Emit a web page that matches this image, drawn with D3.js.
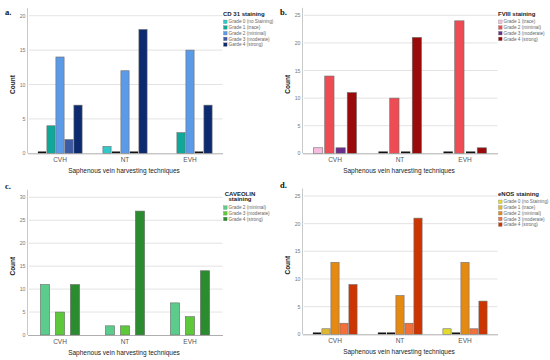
<!DOCTYPE html>
<html lang="en">
<head>
<meta charset="UTF-8">
<title>Staining by harvesting technique</title>
<script src="https://cdn.jsdelivr.net/npm/d3@7"></script>
<style>
  body { margin: 0; background: #fff; }
  svg { display: block; font-family: "Liberation Sans", Arial, sans-serif; }
</style>
</head>
<body>
<script>
// categories shared by all four panels
var categories = ["CVH", "NT", "EVH"];

// a. CD 31
var cd31Grades = ["Grade 0 (no Staining)", "Grade 1 (trace)", "Grade 2 (minimal)", "Grade 3 (moderate)", "Garde 4 (strong)"];
var cd31Values = [[0, 4, 14, 2, 7], [1, 0, 12, 0, 18], [null, 3, 15, 0, 7]];
var cd31Ticks = [0, 5, 10, 15, 20];

// b. FVIII
var fviiiGrades = ["Grade 1 (trace)", "Grade 2 (minimal)", "Grade 3 (moderate)", "Grade 4 (strong)"];
var fviiiValues = [[1, 14, 1, 11], [0, 10, 0, 21], [0, 24, 0, 1]];
var fviiiTicks = [0, 5, 10, 15, 20, 25];

// c. CAVEOLIN
var cavGrades = ["Grade 2 (minimal)", "Grade 3 (moderate)", "Grade 4 (strong)"];
var cavValues = [[11, 5, 11], [2, 2, 27], [7, 4, 14]];
var cavTicks = [0, 5, 10, 15, 20, 25, 30];

// d. eNOS
var enosGrades = ["Grade 0 (no Staining)", "Grade 1 (trace)", "Grade 2 (minimal)", "Grade 3 (moderate)", "Grade 4 (strong)"];
var enosValues = [[0, 1, 13, 2, 9], [0, 0, 7, 2, 21], [1, 0, 13, 1, 6]];
var enosTicks = [0, 5, 10, 15, 20, 25];

var panels = [
  {label: "a.", ox: 0, oy: 0, title: ["CD 31 staining"], grades: cd31Grades, values: cd31Values, ticks: cd31Ticks,
   colors: ["#30c8c8", "#10a898", "#5a9ae6", "#3d5aa6", "#0c2a70"], y0: 153.3, yTop: 15.7, labelY: 15},
  {label: "b.", ox: 275, oy: 0, title: ["FVIII staining"], grades: fviiiGrades, values: fviiiValues, ticks: fviiiTicks,
   colors: ["#f6bde0", "#ee4c55", "#6b2d8c", "#9b0a0a"], y0: 153.3, yTop: 15.3, labelY: 15},
  {label: "c.", ox: 0, oy: 180, title: ["CAVEOLIN", "staining"], grades: cavGrades, values: cavValues, ticks: cavTicks,
   colors: ["#5ccc8c", "#5cc83a", "#2a8c2e"], y0: 155, yTop: 17.3, labelY: 9},
  {label: "d.", ox: 275, oy: 180, title: ["eNOS staining"], grades: enosGrades, values: enosValues, ticks: enosTicks,
   colors: ["#e4dc2a", "#e0b830", "#e48a12", "#f2703a", "#cc3500"], y0: 154.3, yTop: 16, labelY: 8}
];

var width = 550, height = 360;
var svg = d3.select("body").append("svg").attr("width", width).attr("height", height);

var plotLeft = 27.5, plotRight = 222.5;
var groupW = 45;

panels.forEach(function(p) {
  var g = svg.append("g").attr("transform", "translate(" + p.ox + "," + p.oy + ")");
  var maxT = d3.max(p.ticks);

  var x0 = d3.scaleBand().domain(categories).range([plotLeft, plotRight]);
  var x1 = d3.scaleBand().domain(p.grades).range([-groupW / 2, groupW / 2]);
  var y = d3.scaleLinear().domain([0, maxT]).range([p.y0, p.yTop]);
  var color = d3.scaleOrdinal().domain(p.grades).range(p.colors);
  var bw = Math.min(x1.bandwidth() - 0.8, 9.3);

  // panel label
  g.append("text").attr("x", 5).attr("y", p.labelY)
    .attr("font-family", "Liberation Serif, DejaVu Serif, serif").attr("font-weight", "bold")
    .attr("font-size", 8.5).attr("fill", "#111").text(p.label);

  // gridlines
  g.append("g").selectAll("line").data(p.ticks.filter(function(t) { return t > 0; })).enter().append("line")
    .attr("x1", plotLeft + 1.5).attr("x2", plotRight)
    .attr("y1", function(d) { return y(d); }).attr("y2", function(d) { return y(d); })
    .attr("stroke", "#dcdcdc").attr("stroke-width", 0.8);

  // y axis
  var yAxis = d3.axisLeft(y).tickValues(p.ticks).tickSize(0).tickPadding(2);
  var ya = g.append("g").attr("transform", "translate(" + plotLeft + ",0)").call(yAxis);
  ya.select(".domain").remove();
  ya.selectAll("text").attr("font-size", 5.2).attr("fill", "#777").attr("font-family", "Liberation Sans, sans-serif");
  g.append("line").attr("x1", plotLeft).attr("x2", plotLeft).attr("y1", p.yTop - 7.5).attr("y2", p.y0)
    .attr("stroke", "#bbb").attr("stroke-width", 0.8);

  // bars
  categories.forEach(function(cat, ci) {
    var cg = g.append("g").attr("transform", "translate(" + (x0(cat) + x0.bandwidth() / 2) + ",0)");
    var rows = p.grades.map(function(gr, gi) { return {grade: gr, v: p.values[ci][gi]}; })
      .filter(function(d) { return d.v !== null; });
    cg.selectAll("rect").data(rows).enter().append("rect")
      .attr("x", function(d) { return x1(d.grade) + (x1.bandwidth() - bw) / 2; })
      .attr("width", bw)
      .attr("y", function(d) { return d.v === 0 ? p.y0 - 1.8 : y(d.v); })
      .attr("height", function(d) { return d.v === 0 ? 1.8 : p.y0 - y(d.v); })
      .attr("fill", function(d) { return d.v === 0 ? "#111" : color(d.grade); })
      .attr("stroke", function(d) { return d.v === 0 ? "none" : "#6e6e6e"; })
      .attr("stroke-width", 0.6);
  });

  // x axis
  var xAxis = d3.axisBottom(x0).tickSize(0).tickPadding(4);
  var xa = g.append("g").attr("transform", "translate(0," + p.y0 + ")").call(xAxis);
  xa.select(".domain").attr("stroke", "#999").attr("stroke-width", 0.8);
  xa.selectAll("text").attr("font-size", 6.5).attr("fill", "#555").attr("font-family", "Liberation Sans, sans-serif");

  // axis titles
  g.append("text").attr("x", 124).attr("y", p.y0 + 20).attr("text-anchor", "middle")
    .attr("font-size", 6.5).attr("fill", "#222").text("Saphenous vein harvesting techniques");
  g.append("text").attr("transform", "translate(15," + (p.yTop + p.y0) / 2 + ") rotate(-90)")
    .attr("text-anchor", "middle").attr("font-size", 6.5).attr("font-weight", "bold").attr("fill", "#222").text("Count");

  // legend
  var lg = g.append("g").attr("transform", "translate(223,0)");
  var multi = p.title.length > 1;
  lg.selectAll("text.ttl").data(p.title).enter().append("text").attr("class", "ttl")
    .attr("x", multi ? 17 : 0).attr("y", function(d, i) { return 15.5 + i * 5.8; })
    .attr("text-anchor", multi ? "middle" : "start")
    .attr("font-size", 6).attr("font-weight", "bold").attr("fill", "#222").text(function(d) { return d; });
  var startY = 21.8 + (p.title.length - 1) * 5.8;
  var items = lg.selectAll("g.item").data(p.grades).enter().append("g").attr("class", "item")
    .attr("transform", function(d, i) { return "translate(0," + (startY + i * 5.7) + ")"; });
  items.append("rect").attr("x", 0.5).attr("y", -1.8).attr("width", 3.6).attr("height", 3.6)
    .attr("fill", function(d) { return color(d); }).attr("stroke", "#777").attr("stroke-width", 0.3);
  items.append("text").attr("x", 5.5).attr("y", 1.6).attr("font-size", 4.7).attr("fill", "#666")
    .text(function(d) { return d; });
});
</script>
</body>
</html>
